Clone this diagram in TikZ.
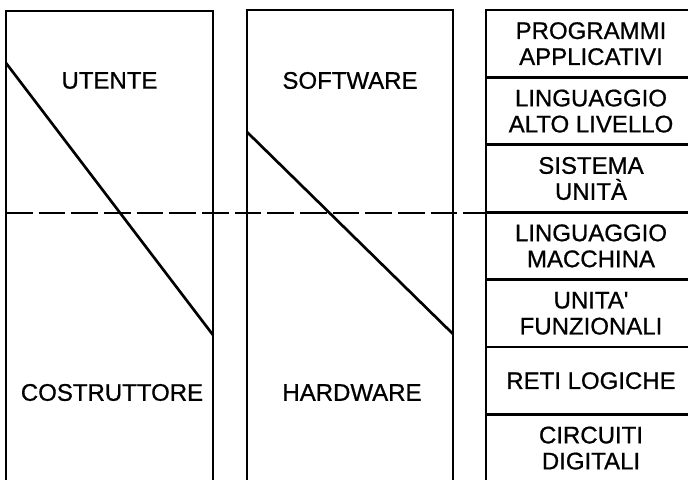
\documentclass[tikz,border=0pt]{standalone}
\usepackage{fontspec}
\setmainfont{Liberation Sans}[RawFeature={embolden=0.8},Ligatures=TeXOff]
\tikzset{
    cella/.style={shape=rectangle,draw=black,align=center,inner sep=0pt,
        minimum width=157.5pt,minimum height=50.55pt},
    etichetta/.style={shape=rectangle,inner sep=0pt}
}
\begin{document}
\begin{tikzpicture}[x=0.75pt,y=-0.75pt,line width=2pt,
    font=\fontsize{18}{19.5}\selectfont]
        \clip (0,0) rectangle (688,479);
        \draw (6,11) rectangle (213,500);
        \draw (247,10) rectangle (453,500);

        \node[etichetta] (UT)  at (109.5,80.5) {UTENTE};
        \node[etichetta] (SW)  at (350,80.5) {SOFTWARE};
        \node[etichetta] (COS) at (112,392.5) {COSTRUTTORE};
        \node[etichetta] (HW)  at (352,392.5) {HARDWARE};

        \node[cella] (PA)  at (591,43.7)  {PROGRAMMI\\APPLICATIVI};
        \node[cella] (LAL) at (591,111.1) {LINGUAGGIO\\ALTO LIVELLO};
        \node[cella] (SU)  at (591,178.5) {SISTEMA\\UNITÀ};
        \node[cella] (LM)  at (591,245.9) {LINGUAGGIO\\MACCHINA};
        \node[cella] (UF)  at (591,313.3) {UNITA'\\FUNZIONALI};
        \node[cella] (RL)  at (591,380.7) {RETI LOGICHE};
        \node[cella] (CD)  at (591,448.1) {CIRCUITI\\DIGITALI};

        \coordinate (U1) at (6,63);
        \coordinate (U2) at (213,335);
        \coordinate (S1) at (247,132);
        \coordinate (S2) at (453,334);
        \coordinate (T1) at (6,213);

        \path [-] (U1) edge (U2);
        \path [-] (S1) edge (S2);
        \path [-, dash pattern=on 20pt off 4.5pt] (T1) edge (PA.west |- T1);
    \end{tikzpicture}
\end{document}
